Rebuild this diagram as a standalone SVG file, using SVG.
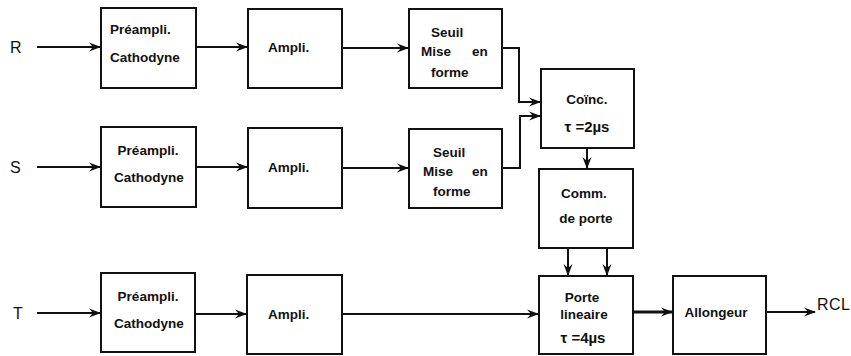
<svg xmlns="http://www.w3.org/2000/svg" width="851" height="356" viewBox="0 0 851 356">
<defs>
<marker id="ah" viewBox="0 0 12 10" refX="11" refY="5" markerWidth="12" markerHeight="10" markerUnits="userSpaceOnUse" orient="auto">
<path d="M0,0.5 L12,5 L0,9.5 L4,5 Z" fill="#111"/>
</marker>
</defs>
<style>
.box{fill:#fff;stroke:#111;stroke-width:2}
.t{font-family:"Liberation Sans",Arial,sans-serif;font-size:13.5px;font-weight:bold;fill:#111}
.c{text-anchor:middle}
.lab{font-family:"Liberation Sans",Arial,sans-serif;font-size:16px;fill:#111}
.w{fill:none;stroke:#111;stroke-width:2;marker-end:url(#ah)}
.wt{fill:none;stroke:#111;stroke-width:3;marker-end:url(#ah)}
</style>
<rect width="851" height="356" fill="#fff"/>
<g id="labels">
<text class="lab" x="10" y="53">R</text>
<text class="lab" x="10" y="173">S</text>
<text class="lab" x="13" y="319">T</text>
<text class="lab" x="817" y="310" textLength="33">RCL</text>
</g>
<g id="preR"><rect class="box" x="101" y="8" width="95" height="80"/>
<text class="t" x="110" y="34">Préampli.</text><text class="t" x="110" y="62">Cathodyne</text></g>
<g id="ampR"><rect class="box" x="248" y="9" width="94" height="79"/>
<text class="t" x="268" y="52">Ampli.</text></g>
<g id="seuilR"><rect class="box" x="409" y="9" width="93" height="79"/>
<text class="t" x="431" y="37">Seuil</text><text class="t" x="421" y="56">Mise</text><text class="t" x="472" y="56">en</text><text class="t" x="431" y="77">forme</text></g>
<g id="preS"><rect class="box" x="101" y="127" width="95" height="80"/>
<text class="t c" x="148" y="155">Préampli.</text><text class="t c" x="149" y="182">Cathodyne</text></g>
<g id="ampS"><rect class="box" x="248" y="128" width="94" height="80"/>
<text class="t" x="268" y="172">Ampli.</text></g>
<g id="seuilS"><rect class="box" x="409" y="129" width="93" height="79"/>
<text class="t" x="433" y="157">Seuil</text><text class="t" x="423" y="176">Mise</text><text class="t" x="472" y="176">en</text><text class="t" x="433" y="196">forme</text></g>
<g id="coinc"><rect class="box" x="541" y="69" width="93" height="79"/>
<text class="t c" x="587" y="104">Coïnc.</text><text class="t c" x="587" y="132" style="font-size:15px">τ =2µs</text></g>
<g id="comm"><rect class="box" x="539" y="169" width="94" height="79"/>
<text class="t c" x="584" y="198">Comm.</text><text class="t c" x="586" y="223">de porte</text></g>
<g id="preT"><rect class="box" x="101" y="273" width="94" height="79"/>
<text class="t c" x="148" y="301">Préampli.</text><text class="t c" x="149" y="328">Cathodyne</text></g>
<g id="ampT"><rect class="box" x="247" y="275" width="95" height="79"/>
<text class="t" x="268" y="319">Ampli.</text></g>
<g id="porte"><rect class="box" x="539" y="276" width="94" height="78"/>
<text class="t c" x="582" y="302">Porte</text><text class="t c" x="584" y="319">lineaire</text><text class="t c" x="583" y="343" style="font-size:15px">τ =4µs</text></g>
<g id="allong"><rect class="box" x="673" y="276" width="93" height="78"/>
<text class="t c" x="716" y="317">Allongeur</text></g>
<g id="connectors">
<path class="w" d="M37,47 H100"/>
<path class="w" d="M196,47 H247"/>
<path class="w" d="M342,48 H408"/>
<path class="w" d="M37,167 H100"/>
<path class="w" d="M196,167 H247"/>
<path class="w" d="M342,168 H408"/>
<path class="w" d="M37,313 H100"/>
<path class="w" d="M195,314 H246"/>
<path class="w" d="M342,314 H538"/>
<path class="w" d="M502,48 H519 V102 H540"/>
<path class="w" d="M502,168 H520 V116 H540"/>
<path class="w" d="M587,148 V168"/>
<path class="w" d="M568,248 V275"/>
<path class="w" d="M607,248 V275"/>
<path class="wt" d="M633,312 H672"/>
<path class="w" d="M766,312 H815"/>
</g>
</svg>
